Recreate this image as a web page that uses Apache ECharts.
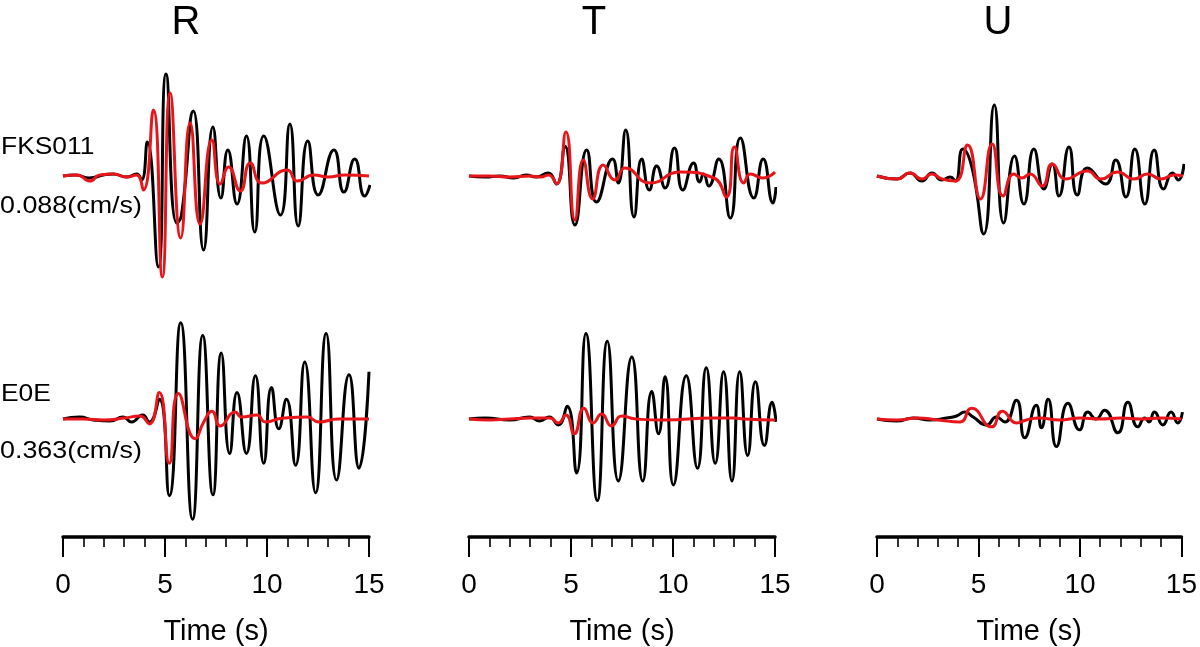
<!DOCTYPE html>
<html><head><meta charset="utf-8">
<script src="https://cdn.jsdelivr.net/npm/echarts@6/dist/echarts.min.js"></script>
<style>html,body{margin:0;padding:0;background:#fff}#c{width:1200px;height:647px}</style>
</head><body><div id="c"></div>
<script>
// ---- labels ----
const components = ['R', 'T', 'U'];
const stations = ['FKS011', 'E0E'];
const peakVel = ['0.088(cm/s)', '0.363(cm/s)'];
const xTickValues = [0, 5, 10, 15];
const xAxisName = 'Time (s)';

// ---- traces: [time (s), relative amplitude] ----
// black = observed, red = synthetic
const obs_R_FKS011 = [[0,0],[0.6,1],[1.3,-2],[1.97,1],[2.46,2],[3.12,-1],[3.61,2],[3.85,-4],[4.13,34],[4.67,-91],[5.05,102],[5.57,-47],[5.8,-40],[6.39,65],[6.89,-74],[7.35,49],[7.74,-22],[8.08,26],[8.53,-28],[8.99,40],[9.4,-56],[9.84,40],[10.66,-39],[11.12,52],[11.53,-50],[12.0,35],[12.51,-19],[13.28,26],[13.77,-16],[14.3,17],[14.79,-20],[15.05,-9]];
const syn_R_FKS011 = [[0,0],[0.7,1],[1.31,-5],[1.8,1],[2.46,2],[3.12,-1],[3.6,1],[3.94,-14],[4.43,66],[4.87,-101],[5.25,83],[5.77,-62],[6.23,53],[6.72,-48],[7.3,36],[7.71,-8],[8.12,9],[8.69,-15],[9.18,13],[9.76,-7],[10.99,6],[11.48,-5],[12.3,1],[13.0,-1],[13.8,1],[15.0,0]];
const obs_T_FKS011 = [[0,0],[0.8,-1],[1.5,0],[2.2,-2],[2.8,1],[3.3,-1],[3.88,3],[4.29,-8],[4.7,30],[5.19,-49],[5.77,26],[6.25,-26],[7.04,17],[7.32,-7],[7.68,46],[8.09,-41],[8.47,17],[8.84,-14],[9.2,10],[9.61,-12],[10.07,28],[10.48,-14],[11.01,13],[11.3,-6],[11.5,2],[11.75,-10],[12.24,17],[12.81,-42],[13.3,38],[13.96,-22],[14.42,17],[14.9,-27],[15.05,-11]];
const syn_T_FKS011 = [[0,0],[1,0],[2,-1],[3,0],[3.5,-1],[3.9,1],[4.29,-8],[4.75,44],[5.19,-44],[5.6,16],[6.06,-23],[6.58,11],[7.16,-4],[7.65,8],[8.87,-7],[10.35,4],[12.0,-2],[12.61,-21],[13.01,29],[13.47,-7],[13.8,2],[14.4,-2],[15.0,4]];
const obs_U_FKS011 = [[0,0],[0.97,-3],[1.62,3],[2.2,-5],[2.69,3],[3.18,-4],[3.59,-1],[3.84,-5],[4.21,27],[4.66,8],[5.23,-58],[5.75,71],[6.21,-47],[6.74,20],[7.2,-28],[7.69,27],[8.18,-13],[8.59,12],[8.92,-20],[9.41,29],[9.82,-19],[10.31,8],[11.21,-8],[11.7,16],[12.2,-21],[12.64,27],[13.13,-28],[13.59,26],[14.05,-13],[14.49,3],[14.77,-4],[15.05,12]];
const syn_U_FKS011 = [[0,0],[0.97,-3],[1.62,3],[2.2,-3],[2.69,2],[3.18,-3],[3.84,-5],[4.44,31],[5.07,-23],[5.64,32],[6.18,-20],[6.7,2],[7.1,-2],[7.5,2],[8.1,-10],[8.59,12],[9.25,-3],[10.31,5],[10.97,-3],[11.79,4],[12.6,-3],[13.26,2],[13.92,-3],[14.57,1],[15.0,0]];
const obs_R_E0E = [[0,0],[0.82,2],[1.48,-1],[2.3,-2],[2.95,2],[3.36,-3],[3.9,4],[4.23,-3],[4.72,20],[5.21,-78],[5.77,98],[6.35,-102],[6.85,85],[7.35,-77],[7.76,67],[8.17,-35],[8.53,27],[8.99,-35],[9.43,44],[9.84,-45],[10.22,32],[10.58,-10],[10.95,20],[11.4,-47],[11.85,58],[12.38,-75],[12.9,87],[13.41,-62],[14.02,45],[14.51,-50],[15.0,48]];
const syn_R_E0E = [[0,0],[1,0],[2,-1],[3,1],[3.77,3],[4.23,-5],[4.72,27],[5.21,-45],[5.66,26],[6.48,-20],[6.9,-3],[7.3,8],[7.71,-7],[8.44,7],[8.77,2],[9.51,4],[9.92,-3],[10.8,1],[11.97,2],[12.54,-3],[13.5,0],[15,0]];
const obs_T_E0E = [[0,0],[0.8,1],[1.99,-1],[2.97,2],[3.47,-2],[3.93,2],[4.37,-6],[4.81,13],[5.27,-55],[5.73,87],[6.29,-83],[6.78,79],[7.32,-63],[7.98,63],[8.52,-63],[8.96,28],[9.29,-15],[9.61,43],[10.02,-67],[10.65,44],[11.2,-50],[11.63,52],[12.07,-45],[12.48,48],[12.89,-63],[13.27,48],[13.66,-37],[14.04,38],[14.48,-27],[14.86,17],[15.05,-3]];
const syn_T_E0E = [[0,0],[1,-1],[2,0],[3,1],[3.96,1],[4.37,-4],[4.75,4],[5.16,-15],[5.63,11],[6.09,-4],[6.5,5],[6.99,-7],[7.48,3],[8.2,0],[9.5,-1],[11.99,1],[12.98,1],[13.5,0],[15,-1]];
const obs_U_E0E = [[0,0],[0.97,-2],[1.79,1],[2.61,-1],[3.43,1],[3.92,3],[4.33,7],[4.74,2],[5.4,-6],[5.88,2],[6.3,-3],[6.87,19],[7.28,-19],[7.85,14],[8.1,-9],[8.43,20],[8.84,-28],[9.41,16],[9.98,-11],[10.39,7],[10.8,0],[11.21,9],[11.87,-14],[12.36,17],[12.85,-8],[13.2,1],[13.4,-3],[13.67,7],[14.08,-6],[14.49,7],[14.82,-4],[15.05,7]];
const syn_U_E0E = [[0,0],[1,-1],[2,1],[3,-1],[4.08,-3],[4.66,11],[5.64,-8],[6.18,8],[6.87,-4],[7.36,-1],[8,1],[9,-1],[10,1],[11,0],[12,1],[13,0],[14,1],[15,0]];

const observed = [[obs_R_FKS011, obs_T_FKS011, obs_U_FKS011], [obs_R_E0E, obs_T_E0E, obs_U_E0E]];
const synthetic = [[syn_R_FKS011, syn_T_FKS011, syn_U_FKS011], [syn_R_E0E, syn_T_E0E, syn_U_E0E]];

// ---- layout ----
const colLeft = [63, 469, 877];
const colWidth = 306;
const rowGrid = [{top: 66, height: 220, half: 110}, {top: 301, height: 240, half: 120}];
const FONT = '"Liberation Sans", Arial, Helvetica, sans-serif';
const RED = '#e8151b';

const grids = [], xAxes = [], yAxes = [], series = [];
let gi = 0;
for (let r = 0; r < 2; r++) {
  for (let c = 0; c < 3; c++) {
    grids.push({left: colLeft[c], width: colWidth, top: rowGrid[r].top, height: rowGrid[r].height, containLabel: false});
    const showAxis = r === 1;
    xAxes.push({
      gridIndex: gi, type: 'value', min: 0, max: 15, interval: 5,
      show: showAxis,
      axisLine: {show: true, onZero: false, lineStyle: {color: '#000', width: 3.5}},
      axisTick: {show: true, length: 20, lineStyle: {color: '#000', width: 2}},
      minorTick: {show: true, splitNumber: 5, length: 10, lineStyle: {color: '#000', width: 1.6}},
      splitLine: {show: false}, minorSplitLine: {show: false},
      axisLabel: {show: true, color: '#000', fontSize: 28, fontFamily: FONT, margin: 34,
        formatter: v => xTickValues.includes(v) ? String(v) : ''},
      name: xAxisName, nameLocation: 'middle', nameGap: 80,
      nameTextStyle: {color: '#000', fontSize: 29, fontFamily: FONT}
    });
    yAxes.push({gridIndex: gi, type: 'value', min: -rowGrid[r].half, max: rowGrid[r].half, show: false});
    series.push({type: 'line', xAxisIndex: gi, yAxisIndex: gi, data: observed[r][c], showSymbol: false, symbol: 'none',
      smooth: 0.55, clip: false, lineStyle: {color: '#000', width: 3}, z: 2});
    series.push({type: 'line', xAxisIndex: gi, yAxisIndex: gi, data: synthetic[r][c], showSymbol: false, symbol: 'none',
      smooth: 0.55, clip: false, lineStyle: {color: RED, width: 3}, z: 3});
    gi++;
  }
}

const graphics = [];
const titleX = [186, 594, 998];
components.forEach((t, i) => graphics.push({type: 'text', x: titleX[i], y: 23,
  style: {text: t, fontSize: 40, fontFamily: FONT, fill: '#000', align: 'center', verticalAlign: 'middle'}}));
const stationY = [147, 394];
const velY = [206, 451];
stations.forEach((s, i) => {
  graphics.push({type: 'text', x: 1, y: stationY[i], scaleX: 1.1, style: {text: s, fontSize: 24, fontFamily: FONT, fill: '#000', align: 'left', verticalAlign: 'middle'}});
  graphics.push({type: 'text', x: 0, y: velY[i], scaleX: 1.12, style: {text: peakVel[i], fontSize: 24, fontFamily: FONT, fill: '#000', align: 'left', verticalAlign: 'middle'}});
});

const chart = echarts.init(document.getElementById('c'), null, {renderer: 'canvas'});
chart.setOption({animation: false, backgroundColor: '#fff', grid: grids, xAxis: xAxes, yAxis: yAxes, series, graphic: graphics});
</script></body></html>
